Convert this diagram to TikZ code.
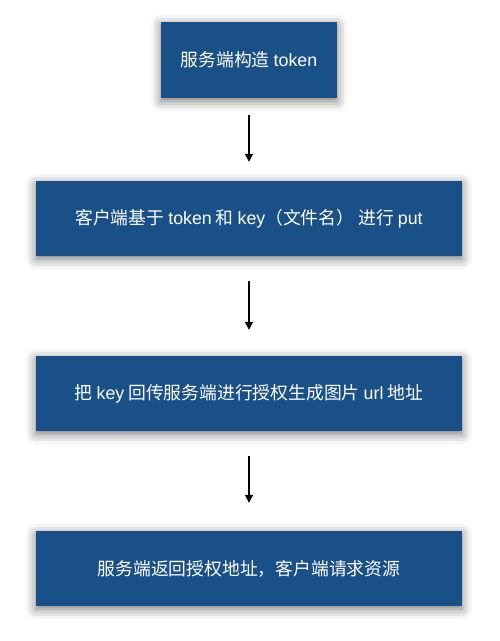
\documentclass[tikz,border=0pt]{standalone}
\usepackage{fontspec}
\setmainfont{Liberation Sans}
\newfontfamily\cjk{Noto Sans CJK SC}
\newcommand\lt[1]{{\rmfamily #1}}
\usetikzlibrary{arrows.meta,shadows.blur}
\definecolor{boxblue}{HTML}{1A5088}
\tikzset{
  stepbox/.style={fill=boxblue, text=white, inner sep=0pt, font=\cjk\fontsize{17.8}{21}\selectfont,
    blur shadow={shadow xshift=0pt, shadow yshift=-3pt, shadow blur radius=10pt, shadow opacity=55}},
  flow/.style={line width=1.4pt, -{Triangle[length=8pt,width=8pt]}}
}
\begin{document}
\begin{tikzpicture}[x=1pt,y=-1pt]
\useasboundingbox (0,0) rectangle (500,641);
\node[stepbox, minimum width=176pt, minimum height=76pt] (b1) at (249,60) {服务端构造 \lt{token}};
\node[stepbox, minimum width=426pt, minimum height=75pt] (b2) at (249,218.5) {客户端基于 \lt{token} 和 \lt{key}（文件名） 进行 \lt{put}};
\node[stepbox, minimum width=426pt, minimum height=75pt] (b3) at (249,393.5) {把 \lt{key} 回传服务端进行授权生成图片 \lt{url} 地址};
\node[stepbox, minimum width=426pt, minimum height=75pt] (b4) at (249,568.5) {服务端返回授权地址，客户端请求资源};
\draw[flow, shorten <=17pt, shorten >=19pt] (b1) -- (b2);
\draw[flow, shorten <=25pt, shorten >=26pt] (b2) -- (b3);
\draw[flow, shorten <=25pt, shorten >=28pt] (b3) -- (b4);
\end{tikzpicture}
\end{document}
